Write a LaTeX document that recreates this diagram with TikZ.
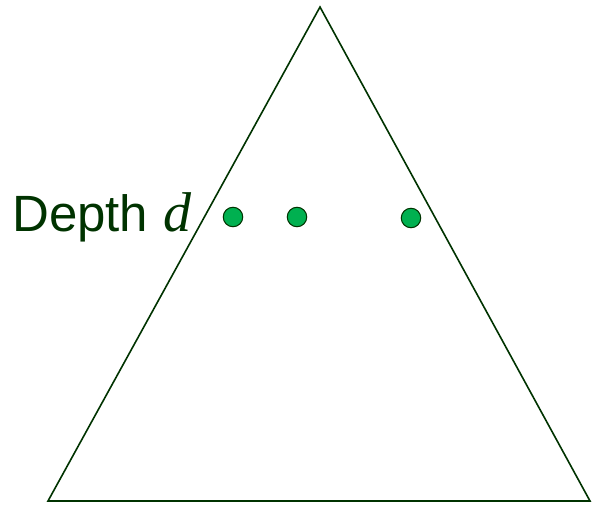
\documentclass[tikz,border=0pt]{standalone}
\usepackage{fontspec}
\setmainfont{Liberation Serif}
\setsansfont{Liberation Sans}
\definecolor{dkgreen}{RGB}{0,51,0}
\definecolor{dotgreen}{RGB}{0,176,80}
\begin{document}
\begin{tikzpicture}[x=1pt,y=-1pt,
  edge/.style={draw=dkgreen,line width=1.6pt,line join=miter},
  dot/.style={circle,draw=dkgreen,fill=dotgreen,line width=1pt,minimum size=19.5pt,inner sep=0pt},
  lbl/.style={inner sep=0pt,anchor=base west,text=dkgreen,font=\sffamily\fontsize{51}{60}\selectfont}]
\useasboundingbox (0,0) rectangle (592,505);
\coordinate (top) at (320,7);
\coordinate (bl) at (48,501);
\coordinate (br) at (590,501);
\draw[edge] (top) -- (bl) -- (br) -- cycle;
\node[dot] (d1) at (233,217) {};
\node[dot] (d2) at (297,217) {};
\node[dot] (d3) at (411,218) {};
\node[lbl] (depth) at (12,232) {Depth\hspace{0.3em}{\rmfamily\itshape\fontsize{56}{60}\selectfont d}};
\end{tikzpicture}
\end{document}
